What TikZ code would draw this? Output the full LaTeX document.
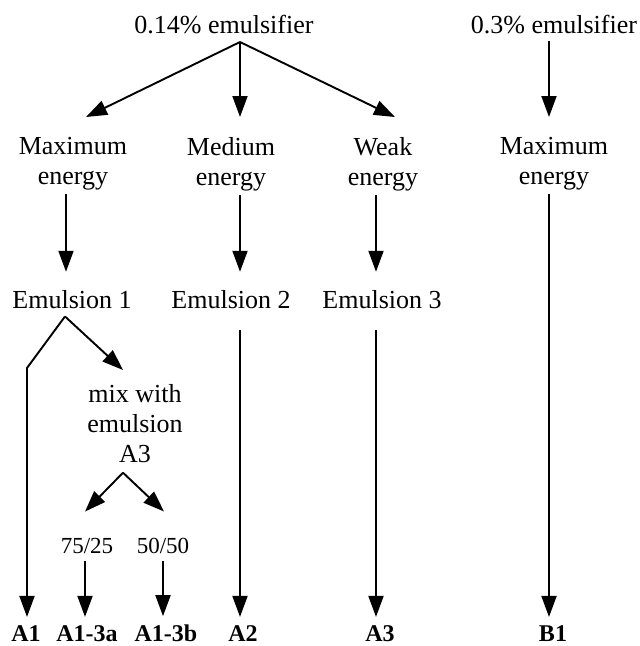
\documentclass[tikz,border=0pt]{standalone}
\usepackage{fontspec}
\setmainfont{Liberation Serif}
\usetikzlibrary{arrows.meta}
\tikzset{
  txt/.style={inner sep=0pt,align=center,font=\fontsize{26}{30}\selectfont},
  ratio/.style={inner sep=0pt,font=\fontsize{23}{27}\selectfont},
  res/.style={inner sep=0pt,font=\fontsize{24}{28}\selectfont\bfseries},
  arr/.style={line width=1.9pt,-{Triangle[length=21pt,width=15pt]}}
}
\begin{document}
\begin{tikzpicture}[x=1pt,y=-1pt]
\useasboundingbox (0,0) rectangle (640,646);

% emulsifier levels and energies
\node[txt,anchor=base] (e14) at (224,33) {0.14\% emulsifier};
\node[txt,anchor=base] (e03) at (554,33) {0.3\% emulsifier};
\node[txt,anchor=north] (maxA) at (73,137) {Maximum\\energy};
\node[txt,anchor=north] (medA) at (231,137) {Medium\\energy};
\node[txt,anchor=north] (weakA) at (383,137) {Weak\\energy};
\node[txt,anchor=north] (maxB) at (554,137) {Maximum\\energy};

\node[txt,anchor=base] (em1) at (72,308) {Emulsion 1};
\node[txt,anchor=base] (em2) at (231,308) {Emulsion 2};
\node[txt,anchor=base] (em3) at (382,308) {Emulsion 3};
\node[txt,anchor=north] (mix) at (135,384) {mix with\\emulsion\\A3};
\node[ratio,anchor=base] (r75) at (87,553) {75/25};
\node[ratio,anchor=base] (r50) at (163,553) {50/50};

% the final samples
\foreach \n/\x/\t in {a1/26/A1,a13a/87/A1-3a,a13b/166/A1-3b,a2/243/A2,a3/380/A3,b1/553/B1}
\node[res,anchor=base] (\n) at (\x,641) {\t};

\coordinate (j14) at (240,42);
\foreach \n/\dx in {maxA/13,medA/9,weakA/12}
\draw[arr] (j14) -- ([xshift=\dx pt,yshift=20pt]\n.north);
\draw[arr] ([xshift=-5pt,yshift=-7pt]e03.south) -- ([xshift=-5pt,yshift=20pt]maxB.north);

\draw[arr] ([xshift=-7pt,yshift=-4pt]maxA.south) -- ([xshift=-6pt,yshift=18pt]em1.north);
\draw[arr] ([xshift=9pt,yshift=-4pt]medA.south) -- ([xshift=9pt,yshift=18pt]em2.north);
\draw[arr] ([xshift=-7pt,yshift=-4pt]weakA.south) -- ([xshift=-6pt,yshift=18pt]em3.north);
\draw[arr] ([xshift=-5pt,yshift=-4pt]maxB.south) -- ([xshift=-4pt,yshift=8pt]b1.north);

% emulsion 1 is split
\coordinate (j1) at ([xshift=-7pt,yshift=-8pt]em1.south);
\coordinate (k1) at (27,368);
\draw[arr] (j1) -- (k1) -- ([xshift=1pt,yshift=8pt]a1.north);
\draw[arr] (j1) -- ([xshift=-12pt,yshift=14pt]mix.north);

\coordinate (j2) at ([xshift=-12pt,yshift=-10pt]mix.south);
\draw[arr] (j2) -- ([xshift=-2pt,yshift=26pt]r75.north);
\draw[arr] (j2) -- ([xshift=1pt,yshift=26pt]r50.north);
\draw[arr] ([xshift=-2pt,yshift=-8pt]r75.south) -- ([xshift=-2pt,yshift=8pt]a13a.north);
\draw[arr] ([yshift=-8pt]r50.south) -- ([xshift=-3pt,yshift=8pt]a13b.north);

\draw[arr] ([xshift=9pt,yshift=-22pt]em2.south) -- ([xshift=-3pt,yshift=8pt]a2.north);
\draw[arr] ([xshift=-6pt,yshift=-22pt]em3.south) -- ([xshift=-4pt,yshift=8pt]a3.north);

\end{tikzpicture}
\end{document}
